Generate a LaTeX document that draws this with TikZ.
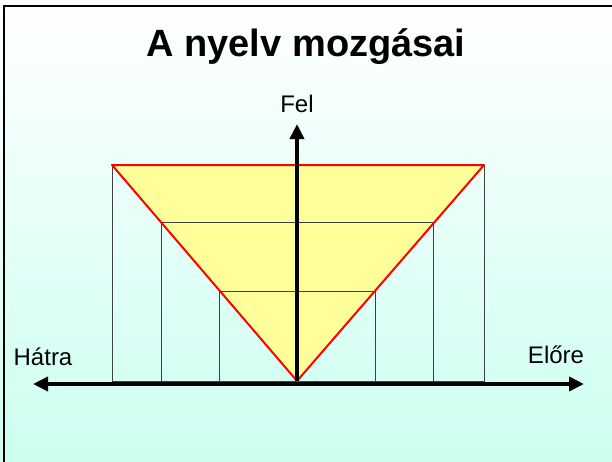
\documentclass[tikz,border=0pt]{standalone}
\usepackage{fontspec}
\setmainfont{Liberation Sans}
\usepackage{tikz}
\usetikzlibrary{arrows.meta, positioning}
\definecolor{menta}{RGB}{204,255,240}
\definecolor{citrom}{RGB}{255,255,153}

\begin{document}
\begin{tikzpicture}[x=1pt, y=-1pt,
  axis/.style={line width=4.5pt, -{Triangle[length=15pt, width=14pt]}},
  racs/.style={draw=black!75, line width=0.9pt},
  lbl/.style={font=\fontsize{24}{27}\selectfont, inner sep=0pt}
]
  \useasboundingbox (0,0) rectangle (612,461);
  \shade[top color=white, bottom color=menta] (0,0) rectangle (612,461);
  \draw[line width=2pt] (4,470) -- (4,6) -- (620,6);

  % csucsok
  \coordinate (bal) at (112,165);
  \coordinate (jobb) at (484,165);
  \coordinate (also) at (297,381);

  \fill[citrom] (bal) -- (jobb) -- (also) -- cycle;
  \draw[racs] (112,165) rectangle (484,381);
  \draw[racs] (161,222) rectangle (433,381);
  \draw[racs] (219,291) rectangle (375,381);
  \draw[red, line width=2pt, line join=round] (bal) -- (jobb) -- (also) -- cycle;

  \node[font=\bfseries\fontsize{38}{41}\selectfont] (cim) at (306,47) {A nyelv mozgásai};
  \node[lbl] (fel) at (297,104) {Fel};
  \node[lbl] (hatra) at (43,357) {Hátra};
  \node[lbl] (elore) at (556,355) {Előre};

  \coordinate (hatul) at (33,384);
  \coordinate (elol) at (584,384);
  \coordinate (fent) at (297,124);

  \draw[axis] (also) -- (fent);
  \draw[axis] (also |- hatul) -- (hatul);
  \draw[axis] (also |- elol) -- (elol);
\end{tikzpicture}
\end{document}
